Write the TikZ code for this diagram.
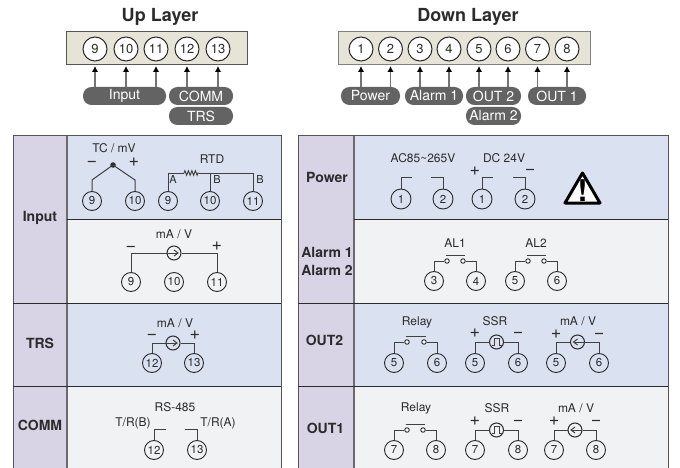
\documentclass[tikz,border=0pt]{standalone}
\usepackage{fontspec}
\setmainfont{TeX Gyre Heros}
\usetikzlibrary{decorations.pathmorphing}
\usetikzlibrary{arrows.meta}
\definecolor{row-blue}{HTML}{DAE1F0}
\definecolor{row-gray}{HTML}{F1F2F4}
\definecolor{head-purple}{HTML}{D9D3E6}
\definecolor{strip-beige}{HTML}{E6E4D6}
\definecolor{pill-gray}{HTML}{636363}
\definecolor{ink}{HTML}{2B2B2B}
\colorlet{wire}{ink!90!white}
\tikzset{
  every node/.style={text=ink},
  layer-title/.style={font=\fontsize{18}{18}\selectfont\bfseries},
  row-title/.style={font=\fontsize{14}{18}\selectfont\bfseries, align=center},
  small-label/.style={font=\fontsize{12}{12}\selectfont, inner sep=0pt},
  corner-label/.style={font=\fontsize{11}{11}\selectfont, inner sep=0pt},
  sign/.style={font=\fontsize{18}{18}\selectfont, inner sep=0pt, text height=9pt, text depth=0pt},
  port/.style={circle, draw=ink, fill=white, line width=1pt, minimum size=24pt, inner sep=0pt, font=\fontsize{13}{13}\selectfont},
  terminal/.style={circle, draw=ink, line width=0.9pt, minimum size=19pt, inner sep=0pt, font=\fontsize{11.5}{12}\selectfont},
  contact/.style={circle, draw=ink, fill=white, line width=0.9pt, minimum size=4.5pt, inner sep=0pt},
  source/.style={circle, draw=ink, line width=1pt, minimum size=14pt, inner sep=0pt},
  line-wire/.style={draw=wire, line width=1pt},
  pill/.style={rounded corners=8.5pt, fill=pill-gray, minimum height=18pt, inner sep=0pt, text=white, font=\fontsize{14}{14}\selectfont},
  feed/.style={draw=gray!90!black, line width=1.3pt, -{Latex[length=6pt,width=6.5pt,black]}},
}
% two terminals and a relay contact between them
\newcommand{\tikzrelay}[7]{%
\node[terminal] (#1-a) at (#2,#5) {#6};
\node[terminal] (#1-b) at (#3,#5) {#7};
\node[contact] (#1-c) at (#2+13,#4) {};
\node[contact] (#1-d) at (#3-13,#4) {};
\coordinate (#1-bar-a) at (#2+11.5,#4-6);
\coordinate (#1-bar-b) at (#3-11.5,#4-6);
\draw[line-wire] (#1-a.north) |- (#1-c.west);
\draw[line-wire] (#1-d.east) -| (#1-b.north);
\draw[line-wire] (#1-bar-a) -- (#1-bar-b);
}
% two terminals and a source; #8 draws the symbol inside it
\newcommand{\tikzsource}[8]{%
\node[terminal] (#1-a) at (#2,#5) {#6};
\node[terminal] (#1-b) at (#3,#5) {#7};
\node[source] (#1-s) at ({(#2+#3)/2},#4) {};
\draw[line-wire] (#1-a.north) |- (#1-s.west);
\draw[line-wire] (#1-s.east) -| (#1-b.north);
\begin{scope}[shift={(#1-s.center)}]
#8
\end{scope}
}
\newcommand{\chevronright}{\draw[line-wire] (-7,0) -- (4,0); \draw[line-wire] (0,-3) -- (4,0) -- (0,3);}
\newcommand{\chevronleft}{\draw[line-wire] (7,0) -- (-4,0); \draw[line-wire] (0,-3) -- (-4,0) -- (0,3);}
\newcommand{\pulse}{\draw[line-wire] (-5,3.5) -- (-2.5,3.5) -- (-2.5,-3.5) -- (2.5,-3.5) -- (2.5,3.5) -- (5,3.5);}
\begin{document}
\begin{tikzpicture}[x=1pt,y=-1pt]
\useasboundingbox (0,0) rectangle (680,468);
% titles
\node[layer-title] (title-up) at (160,17) {Up Layer};
\node[layer-title] (title-down) at (468,17) {Down Layer};
% terminal strips
\draw[draw=ink!80!white, fill=strip-beige, line width=1pt] (66,32) rectangle (247,65);
\draw[draw=ink!60!white, fill=strip-beige, line width=1pt] (338,32) rectangle (590,65);
\node[pill, minimum width=83pt] (pill-input) at (124.5,96) {Input};
\node[pill, minimum width=64pt] (pill-comm) at (201,96) {COMM};
\node[pill, minimum width=64pt] (pill-trs) at (201,116) {TRS};
\node[pill, minimum width=59pt] (pill-power) at (370.5,96) {Power};
\node[pill, minimum width=58pt] (pill-alarm-a) at (434,96) {Alarm 1};
\node[pill, minimum width=55pt] (pill-out-b) at (493.5,96) {OUT 2};
\node[pill, minimum width=58pt] (pill-out-a) at (557,96) {OUT 1};
\node[pill, minimum width=55pt] (pill-alarm-b) at (493.5,116) {Alarm 2};
\foreach \num/\px/\target in {9/95/input,10/126/input,11/156/input,12/187/comm,13/218/comm} {
  \node[port] (up-\num) at (\px,49) {\num};
  \coordinate (up-tip-\num) at (\px,66);
  \draw[feed] (\px,0 |- pill-\target.north) -- (up-tip-\num);
}
\foreach \num/\px/\target in {1/361/power,2/390.5/power,3/420/alarm-a,4/449/alarm-a,5/479/out-b,6/508/out-b,7/537.5/out-a,8/567/out-a} {
  \node[port] (down-\num) at (\px,49) {\num};
  \coordinate (down-tip-\num) at (\px,66);
  \draw[feed] (\px,0 |- pill-\target.north) -- (down-tip-\num);
}
% table backgrounds
\foreach \xa/\xb/\xc in {13/67/281,298/354/668} {
  \fill[head-purple] (\xa,136) rectangle (\xb,468);
  \fill[row-blue] (\xb,136) rectangle (\xc,219);
  \fill[row-gray] (\xb,219) rectangle (\xc,303);
  \fill[row-blue] (\xb,303) rectangle (\xc,386);
  \fill[row-gray] (\xb,386) rectangle (\xc,468);
  \draw[ink!80!white, line width=1pt] (\xa,468) -- (\xa,136) -- (\xc,136) -- (\xc,468);
  \draw[ink!70!white, line width=1.5pt] (\xb,136) -- (\xb,468);
  \draw[ink, line width=1pt] (\xb,219) -- (\xc,219);
  \draw[ink, line width=1pt] (\xa,303) -- (\xc,303);
  \draw[ink, line width=1pt] (\xa,386) -- (\xc,386);
}
\node[row-title] (head-input) at (40,218) {Input};
\node[row-title] (head-trs) at (40,343) {TRS};
\node[row-title] (head-comm) at (40,425) {COMM};
\node[row-title] (head-power) at (327,177) {Power};
\node[row-title] (head-alarm) at (327,261) {Alarm 1\\Alarm 2};
\node[row-title] (head-outb) at (324.5,340) {OUT2};
\node[row-title] (head-outa) at (325.5,428) {OUT1};
% TC / mV
\node[small-label] (tc-text) at (114,148) {TC / mV};
\node[sign] (tc-minus) at (92,162) {−};
\node[sign] (tc-plus) at (134,162) {+};
\node[terminal] (tc-a) at (92,201) {9};
\node[terminal] (tc-b) at (135,201) {10};
\node[circle, fill=ink, inner sep=0pt, minimum size=5.5pt] (tc-dot) at (113,165) {};
\draw[line-wire] (tc-a.north) -- (92,180) -- (tc-dot.center) -- (135,180) -- (tc-b.north);
% RTD
\node[small-label] (rtd-text) at (212,159) {RTD};
\node[terminal] (rtd-a) at (168,201) {9};
\node[terminal] (rtd-b) at (210,201) {10};
\node[terminal] (rtd-c) at (253,201) {11};
\node[corner-label] (rtd-la) at (173,179) {A};
\node[corner-label] (rtd-lb) at (217,179) {B};
\node[corner-label] (rtd-lc) at (260,179) {B};
\coordinate (res-a) at (184,173);
\coordinate (res-b) at (199,173);
\draw[line-wire] (rtd-a.north) |- (res-a);
\draw[line-wire, decorate, decoration={zigzag, segment length=3.5pt, amplitude=2.2pt}] (res-a) -- (res-b);
\draw[line-wire] (res-b) -| (rtd-c.north);
\draw[line-wire] (rtd-b.north) |- (res-b);
% mA / V
\node[small-label] (ma-text) at (174,234) {mA / V};
\node[sign] (ma-minus) at (131,247) {−};
\node[sign] (ma-plus) at (217,246) {+};
\node[terminal] (ma-m) at (174,282) {10};
\tikzsource{ma}{131}{217}{253}{282}{9}{11}{\chevronright}
% TRS
\node[small-label] (trs-text) at (175,323) {mA / V};
\node[sign] (trs-minus) at (152,335) {−};
\node[sign] (trs-plus) at (195,335) {+};
\tikzsource{trs}{152}{194}{343}{363}{12}{13}{\chevronright}
% COMM
\node[small-label] (comm-text) at (175,407) {RS-485};
\node[small-label] (comm-la) at (133,423) {T/R(B)};
\node[small-label] (comm-lb) at (218,423) {T/R(A)};
\node[terminal] (comm-a) at (154,450) {12};
\node[terminal] (comm-b) at (197,450) {13};
\coordinate (comm-end-a) at (166,429);
\coordinate (comm-end-b) at (185,429);
\draw[line-wire] (comm-a.north) |- (comm-end-a);
\draw[line-wire] (comm-b.north) |- (comm-end-b);
% Power
\node[small-label] (ac-text) at (423,158) {AC85\textasciitilde265V};
\node[small-label] (dc-text) at (504,158) {DC 24V};
\node[sign] (dc-plus) at (475,171) {+};
\node[sign] (dc-minus) at (530,170) {−};
\foreach \id/\px/\num/\endx in {pa/401/1/412,pb/443/2/431,pc/482/1/493,pd/525/2/513} {
  \node[terminal, minimum size=20pt] (\id) at (\px,199) {\num};
  \coordinate (\id-end) at (\endx,177);
  \draw[line-wire] (\id.north) |- (\id-end);
}
\draw[black, fill=white, line width=3pt, line join=round] (582.5,173) -- (600,203) -- (565,203) -- cycle;
\node[font=\fontsize{30}{30}\selectfont\bfseries, inner sep=0pt, text=black] (warn-mark) at (582.5,191) {!};
% Alarms
\node[small-label] (al-a-text) at (455,243) {AL1};
\node[small-label] (al-b-text) at (536,243) {AL2};
\tikzrelay{al-a}{434}{476}{261}{281}{3}{4}
\tikzrelay{al-b}{515}{557}{261}{281}{5}{6}
% OUT2
\node[small-label] (outb-relay-text) at (417,322) {Relay};
\node[small-label] (outb-ssr-text) at (495,321) {SSR};
\node[small-label] (outb-ma-text) at (578,321) {mA / V};
\node[sign] (outb-ssr-plus) at (475,333) {+};
\node[sign] (outb-ssr-minus) at (518,333) {−};
\node[sign] (outb-ma-plus) at (556,334) {+};
\node[sign] (outb-ma-minus) at (599,334) {−};
\tikzrelay{outb-relay}{394}{437}{342}{363}{5}{6}
\tikzsource{outb-ssr}{475}{518}{342}{363}{5}{6}{\pulse}
\tikzsource{outb-ma}{556}{599}{342}{363}{5}{6}{\chevronleft}
% OUT1
\node[small-label] (outa-relay-text) at (416,408) {Relay};
\node[small-label] (outa-ssr-text) at (497,408) {SSR};
\node[small-label] (outa-ma-text) at (576,408) {mA / V};
\node[sign] (outa-ssr-plus) at (475,421) {+};
\node[sign] (outa-ssr-minus) at (518,421) {−};
\node[sign] (outa-ma-plus) at (554,421) {+};
\node[sign] (outa-ma-minus) at (596,421) {−};
\tikzrelay{outa-relay}{394}{436}{430}{450}{7}{8}
\tikzsource{outa-ssr}{475}{518}{430}{450}{7}{8}{\pulse}
\tikzsource{outa-ma}{554}{596}{430}{450}{7}{8}{\chevronleft}
\end{tikzpicture}
\end{document}
